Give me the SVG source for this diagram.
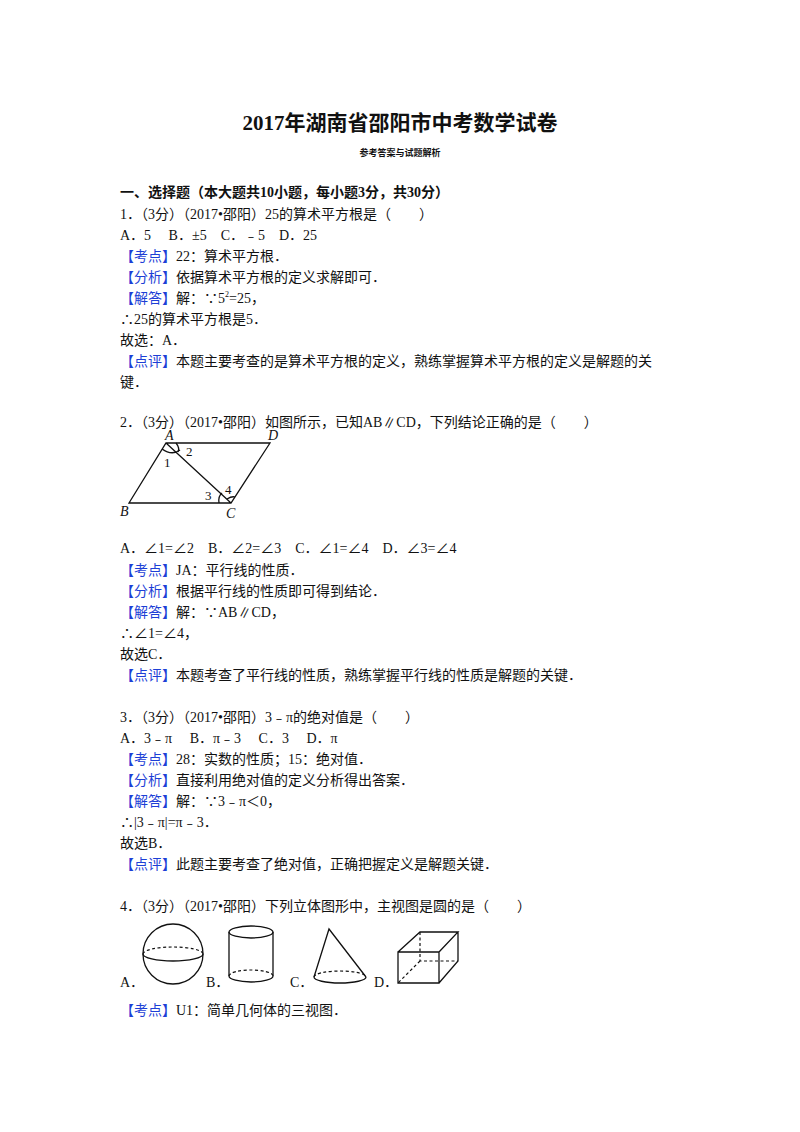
<svg xmlns="http://www.w3.org/2000/svg" width="800" height="1132" viewBox="0 0 800 1132">
<style>
text{font-family:"Liberation Serif","Noto Sans CJK SC",serif;font-size:14px;fill:#111}
.b{fill:#1d3fd6}
.bd{font-weight:bold}
.ln{stroke:#111;stroke-width:1.3;fill:none}
.ds{stroke:#111;stroke-width:1.2;fill:none;stroke-dasharray:3 2.5}
</style>
<rect width="800" height="1132" fill="#fff"/>
<g id="header">
<text x="400" y="130" text-anchor="middle" class="bd" style="font-size:21px">2017年湖南省邵阳市中考数学试卷</text>
<text x="400" y="156" text-anchor="middle" class="bd" style="font-size:9px">参考答案与试题解析</text>
<text x="120" y="197" class="bd">一、选择题（本大题共10小题，每小题3分，共30分）</text>
</g>
<g id="q1">
<text x="120" y="219">1．（3分）（2017•邵阳）25的算术平方根是（　　）</text>
<text x="120" y="240">A．5　 B．±5　C．﹣5　D．25</text>
<text x="120" y="261"><tspan class="b">【考点】</tspan>22：算术平方根．</text>
<text x="120" y="282"><tspan class="b">【分析】</tspan>依据算术平方根的定义求解即可．</text>
<text x="120" y="303"><tspan class="b">【解答】</tspan>解：∵5<tspan dy="-6" style="font-size:8px">2</tspan><tspan dy="6">=25，</tspan></text>
<text x="120" y="324">∴25的算术平方根是5．</text>
<text x="120" y="345">故选：A．</text>
<text x="120" y="366"><tspan class="b">【点评】</tspan>本题主要考查的是算术平方根的定义，熟练掌握算术平方根的定义是解题的关</text>
<text x="120" y="387">键．</text>
</g>
<g id="q2">
<text x="120" y="427">2．（3分）（2017•邵阳）如图所示，已知AB∥CD，下列结论正确的是（　　）</text>
<g id="fig2">
<path class="ln" d="M166,443 L270,443 L231,503 L129,503 Z M166,443 L231,503"/>
<path class="ln" d="M162,449 Q172,456 180,450"/>
<path class="ln" d="M176,443 Q180,448 178,452"/>
<path class="ln" d="M219,503 Q218,496 222,493"/>
<path class="ln" d="M227,499 Q232,496 235,497"/>
<text x="165" y="440" style="font-style:italic">A</text>
<text x="268" y="440" style="font-style:italic">D</text>
<text x="120" y="516" style="font-style:italic">B</text>
<text x="226" y="518" style="font-style:italic">C</text>
<text x="164" y="467" style="font-size:13px">1</text>
<text x="186" y="456" style="font-size:13px">2</text>
<text x="205" y="500" style="font-size:13px">3</text>
<text x="225" y="494" style="font-size:13px">4</text>
</g>
<text x="120" y="553">A．∠1=∠2　B．∠2=∠3　C．∠1=∠4　D．∠3=∠4</text>
<text x="120" y="575"><tspan class="b">【考点】</tspan>JA：平行线的性质．</text>
<text x="120" y="596"><tspan class="b">【分析】</tspan>根据平行线的性质即可得到结论．</text>
<text x="120" y="617"><tspan class="b">【解答】</tspan>解：∵AB∥CD，</text>
<text x="120" y="638">∴∠1=∠4，</text>
<text x="120" y="659">故选C．</text>
<text x="120" y="680"><tspan class="b">【点评】</tspan>本题考查了平行线的性质，熟练掌握平行线的性质是解题的关键．</text>
</g>
<g id="q3">
<text x="120" y="722">3．（3分）（2017•邵阳）3﹣π的绝对值是（　　）</text>
<text x="120" y="743">A．3﹣π　 B．π﹣3　 C．3　 D．π</text>
<text x="120" y="764"><tspan class="b">【考点】</tspan>28：实数的性质；15：绝对值．</text>
<text x="120" y="785"><tspan class="b">【分析】</tspan>直接利用绝对值的定义分析得出答案．</text>
<text x="120" y="806"><tspan class="b">【解答】</tspan>解：∵3﹣π＜0，</text>
<text x="120" y="827">∴|3﹣π|=π﹣3．</text>
<text x="120" y="848">故选B．</text>
<text x="120" y="869"><tspan class="b">【点评】</tspan>此题主要考查了绝对值，正确把握定义是解题关键．</text>
</g>
<g id="q4">
<text x="120" y="911">4．（3分）（2017•邵阳）下列立体图形中，主视图是圆的是（　　）</text>
<g id="fig4">
<circle class="ln" cx="173" cy="954" r="30"/>
<path class="ln" d="M143,954 A30,7 0 0 0 203,954"/>
<path class="ds" d="M143,954 A30,7 0 0 1 203,954"/>
<ellipse class="ln" cx="251" cy="932" rx="22" ry="6"/>
<path class="ln" d="M229,932 L229,976 M273,932 L273,976 M229,976 A22,6 0 0 0 273,976"/>
<path class="ds" d="M229,976 A22,6 0 0 1 273,976"/>
<path class="ln" d="M314,977 L329,929 L366,977 M314,977 A26,6 0 0 0 366,977"/>
<path class="ds" d="M314,977 A26,6 0 0 1 366,977"/>
<path class="ln" d="M398,952 L439,952 L439,983 L398,983 Z M398,952 L420,932 L458,932 L439,952 M458,932 L458,961 L439,983"/>
<path class="ds" d="M420,932 L420,961 L458,961 M420,961 L398,983"/>
<text x="120" y="987">A．</text>
<text x="206" y="987">B．</text>
<text x="290" y="987">C．</text>
<text x="374" y="987">D．</text>
</g>
<text x="120" y="1015"><tspan class="b">【考点】</tspan>U1：简单几何体的三视图．</text>
</g>
</svg>
